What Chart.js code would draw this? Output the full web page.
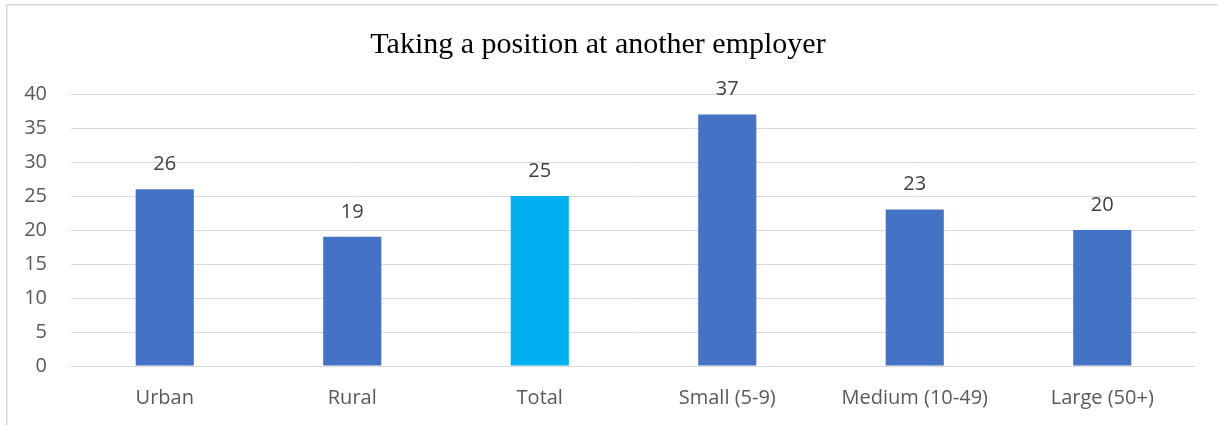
<!DOCTYPE html>
<html>
<head>
<meta charset="utf-8">
<script src="https://cdn.jsdelivr.net/npm/chart.js@4/dist/chart.umd.min.js"></script>
<style>
  html, body { margin: 0; padding: 0; background: #ffffff; }
  #wrap { position: relative; width: 1218px; height: 425px; }
</style>
</head>
<body>
<div id="wrap"><canvas id="chart" width="1218" height="425"></canvas></div>
<script>
// Share of respondents taking a position at another employer, by group
const categories = ['Urban', 'Rural', 'Total', 'Small (5-9)', 'Medium (10-49)', 'Large (50+)'];
const values = [26, 19, 25, 37, 23, 20];
const yTicks = [0, 5, 10, 15, 20, 25, 30, 35, 40];

const BLUE = '#4472C4';
const TOTAL_BLUE = '#00B0F0';
const LABEL_FONT = "'Open Sans', 'Noto Sans', sans-serif";
const LABEL_SIZE = 20;

// Outer frame of the chart
const framePlugin = {
  id: 'frame',
  beforeDraw(chart) {
    const ctx = chart.ctx;
    ctx.save();
    ctx.fillStyle = '#ffffff';
    ctx.fillRect(0, 0, chart.width, chart.height);
    ctx.strokeStyle = '#d9d9d9';
    ctx.lineWidth = 1.5;
    ctx.strokeRect(6.75, 4.75, chart.width + 20, chart.height + 20);
    ctx.restore();
  }
};

// Value written above each bar
const valueLabels = {
  id: 'valueLabels',
  afterDatasetsDraw(chart) {
    const ctx = chart.ctx;
    const meta = chart.getDatasetMeta(0);
    ctx.save();
    ctx.font = LABEL_SIZE + 'px ' + LABEL_FONT;
    ctx.fillStyle = '#404040';
    ctx.textAlign = 'center';
    ctx.textBaseline = 'middle';
    meta.data.forEach((bar, i) => {
      ctx.fillText(String(values[i]), bar.x, bar.y - 25);
    });
    ctx.restore();
  }
};

new Chart(document.getElementById('chart'), {
  type: 'bar',
  data: {
    labels: categories,
    datasets: [{
      data: values,
      backgroundColor: categories.map(c => c === 'Total' ? TOTAL_BLUE : BLUE),
      categoryPercentage: 1,
      barPercentage: 0.31
    }]
  },
  options: {
    responsive: false,
    animation: false,
    layout: { padding: { left: 0, right: 22, top: 0, bottom: 0 } },
    plugins: {
      legend: { display: false },
      tooltip: { enabled: false },
      title: {
        display: true,
        text: 'Taking a position at another employer',
        color: '#000000',
        font: { family: "'Liberation Serif', 'Times New Roman', serif", size: 30, weight: 'normal' },
        padding: { top: 27, bottom: 31 }
      }
    },
    scales: {
      x: {
        grid: { display: false, drawTicks: false },
        border: { display: false },
        ticks: { color: '#595959', font: { family: LABEL_FONT, size: LABEL_SIZE }, padding: 20 },
        afterFit(scale) { scale.height = 59; }
      },
      y: {
        min: 0,
        max: 40,
        afterBuildTicks(scale) { scale.ticks = yTicks.map(v => ({ value: v })); },
        grid: { color: '#d9d9d9', lineWidth: 1, drawTicks: false },
        border: { display: false },
        ticks: { color: '#595959', font: { family: LABEL_FONT, size: LABEL_SIZE }, padding: 24 },
        afterFit(scale) { scale.width = 71; }
      }
    }
  },
  plugins: [framePlugin, valueLabels]
});
</script>
</body>
</html>
